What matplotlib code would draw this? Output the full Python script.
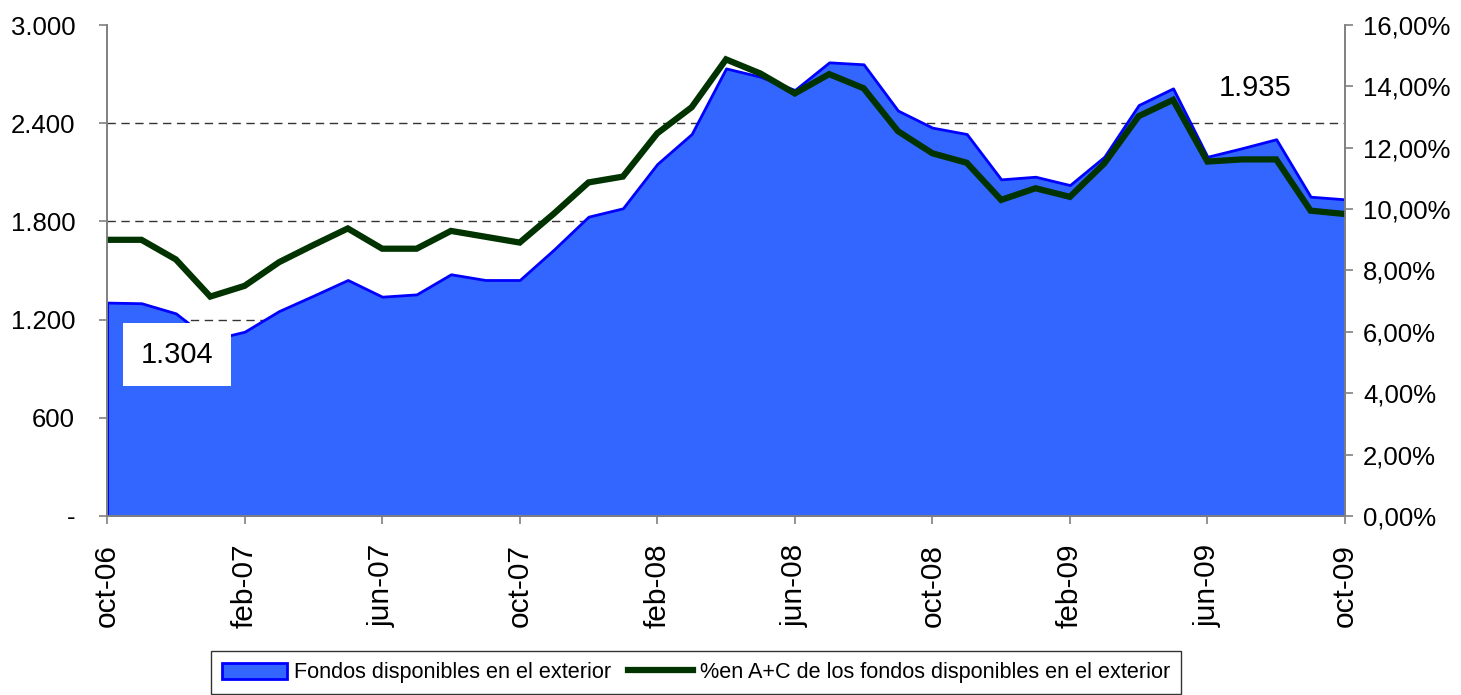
import numpy as np
import matplotlib
matplotlib.use("Agg")
from matplotlib import pyplot as plt
from matplotlib.ticker import FuncFormatter

plt.rcParams['font.family'] = ['Liberation Sans', 'DejaVu Sans']

# monthly, oct-06 .. oct-09
months = ['oct', 'nov', 'dic', 'ene', 'feb', 'mar', 'abr', 'may', 'jun', 'jul', 'ago', 'sep']
years = [6] * 3 + [7] * 12 + [8] * 12 + [9] * 10
month_labels = [f"{months[i % 12]}-{y:02d}" for i, y in enumerate(years)]

fondos = [1304, 1300, 1238, 1075, 1126, 1252, 1346, 1442, 1340, 1354,
          1477, 1442, 1442, 1629, 1829, 1880, 2151, 2334, 2735, 2684,
          2603, 2772, 2760, 2477, 2373, 2334, 2057, 2073, 2022, 2195,
          2511, 2613, 2195, 2247, 2302, 1951, 1935]

pct_ac = [9.00, 9.00, 8.36, 7.15, 7.50, 8.27, 8.83, 9.37, 8.71, 8.71,
          9.29, 9.10, 8.91, 9.86, 10.87, 11.06, 12.47, 13.32, 14.88, 14.42,
          13.77, 14.40, 13.94, 12.54, 11.82, 11.51, 10.30, 10.68, 10.40, 11.49,
          13.03, 13.56, 11.55, 11.62, 11.62, 9.95, 9.84]

left_ticks = [0, 600, 1200, 1800, 2400, 3000]
right_ticks = [0, 2, 4, 6, 8, 10, 12, 14, 16]

x = np.arange(len(fondos))

fig = plt.figure(figsize=(14.61, 6.95), dpi=100)
ax = fig.add_axes([0.0733, 0.2576, 0.8473, 0.7064])
ax2 = ax.twinx()

# gridlines behind the area
for v in left_ticks[1:-1]:
    ax.axhline(v, color='#333333', lw=1, ls=(0, (6, 4)), zorder=0)

area = ax.fill_between(x, fondos, 0, facecolor='#3366FF', edgecolor='#0000FF',
                       lw=2, zorder=2, label='Fondos disponibles en el exterior')
line, = ax2.plot(x, pct_ac, color='#003300', lw=4.5, solid_joinstyle='miter',
                 label='%en A+C de los fondos disponibles en el exterior')

ax.set_zorder(ax2.get_zorder() - 1)
ax2.patch.set_visible(False)

ax.set_xlim(0, len(fondos) - 1)
ax.set_ylim(0, 3000)
ax2.set_ylim(0, 16)

ax.set_yticks(left_ticks)
ax.yaxis.set_major_formatter(FuncFormatter(
    lambda v, p: '-' if v == 0 else f"{int(v):,}".replace(',', '.')))
ax2.set_yticks(right_ticks)
ax2.yaxis.set_major_formatter(FuncFormatter(lambda v, p: f"{v:.2f}%".replace('.', ',')))

ax.set_xticks(x[::4])
ax.set_xticklabels(month_labels[::4], rotation=90, fontsize=21.5)

for a in (ax, ax2):
    a.tick_params(axis='y', labelsize=18.5, length=6, color='#808080', width=1.2)
    a.spines['top'].set_visible(False)
    for s in ('left', 'right', 'bottom'):
        a.spines[s].set_color('#808080')
        a.spines[s].set_linewidth(1.2)
ax.tick_params(axis='x', length=6, color='#808080', width=1.2, pad=14)
ax.tick_params(axis='y', pad=17)
ax2.tick_params(axis='y', pad=7)

# value labels at start and end
ax.text(2.03, 984, f"{fondos[0]:,}".replace(',', '.'), fontsize=21, ha='center', va='center',
        zorder=5, bbox=dict(boxstyle='square,pad=0.6', fc='white', ec='none'))
ax2.text(33.4, 2615 / 3000 * 16, f"{fondos[-1]:,}".replace(',', '.'), fontsize=21,
         ha='center', va='center', zorder=1,
         bbox=dict(boxstyle='square,pad=0.55', fc='white', ec='none'))

leg = fig.legend(handles=[area, line], loc='lower center', bbox_to_anchor=(0.4765, 0.0015),
                 ncol=2, frameon=True, fancybox=False, edgecolor='black',
                 prop={'family': ['Liberation Sans'], 'size': 15.6},
                 handlelength=3.0, handleheight=0.75, handletextpad=0.35,
                 columnspacing=0.75, borderpad=0.5, borderaxespad=0)
leg.get_frame().set_linewidth(1)

fig.savefig('out.png', dpi=100)
